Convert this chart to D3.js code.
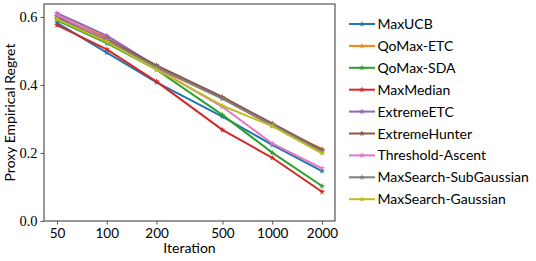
<!DOCTYPE html>
<html>
<head>
<meta charset="utf-8">
<script src="https://cdn.jsdelivr.net/npm/d3@7"></script>
<style>
  body { margin: 0; background: #fff; }
  svg text { fill: #000; }
</style>
</head>
<body>
<div id="plot"></div>
<script>
const iterations = [50, 100, 200, 500, 1000, 2000];
const seriesNames = ['MaxUCB', 'QoMax-ETC', 'QoMax-SDA', 'MaxMedian', 'ExtremeETC',
  'ExtremeHunter', 'Threshold-Ascent', 'MaxSearch-SubGaussian', 'MaxSearch-Gaussian'];
const maxUCB = [0.583, 0.495, 0.408, 0.307, 0.224, 0.147];
const qoMaxETC = [0.603, 0.539, 0.450, 0.360, 0.280, 0.212];
const qoMaxSDA = [0.590, 0.523, 0.445, 0.312, 0.201, 0.103];
const maxMedian = [0.576, 0.505, 0.410, 0.268, 0.186, 0.086];
const extremeETC = [0.611, 0.545, 0.455, 0.362, 0.282, 0.205];
const extremeHunter = [0.601, 0.535, 0.458, 0.365, 0.287, 0.209];
const thresholdAscent = [0.606, 0.532, 0.448, 0.336, 0.228, 0.155];
const maxSearchSub = [0.597, 0.530, 0.452, 0.360, 0.283, 0.204];
const maxSearchGauss = [0.593, 0.527, 0.445, 0.339, 0.279, 0.199];
const seriesValues = [maxUCB, qoMaxETC, qoMaxSDA, maxMedian, extremeETC,
  extremeHunter, thresholdAscent, maxSearchSub, maxSearchGauss];
const colors = ['#1f77b4', '#ff7f0e', '#2ca02c', '#d62728', '#9467bd',
  '#8c564b', '#e377c2', '#7f7f7f', '#bcbd22'];
const yTicks = [0.0, 0.2, 0.4, 0.6];

const W = 536, H = 261;
const plot = { left: 44, top: 4, right: 335, bottom: 221 };

const svg = d3.select('#plot').append('svg')
  .attr('width', W).attr('height', H);

const x = d3.scaleLog().domain([50, 2000])
  .range([plot.left + 13, plot.right - 13]);
const y = d3.scaleLinear().domain([0, 0.6]).range([plot.bottom, plot.bottom - 204]);

// axes
const xAxis = svg.append('g')
  .attr('transform', `translate(0,${plot.bottom})`)
  .call(d3.axisBottom(x).tickValues(iterations).tickFormat(d3.format('d')).tickSize(3.5).tickSizeOuter(0));
xAxis.select('.domain').remove();
xAxis.selectAll('text').attr('font-family', 'Lato, sans-serif').attr('font-size', 13.5).attr('dy', '0.8em');

const yAxis = svg.append('g')
  .attr('transform', `translate(${plot.left},0)`)
  .call(d3.axisLeft(y).tickValues(yTicks).tickFormat(d3.format('.1f')).tickSize(3.5).tickSizeOuter(0));
yAxis.select('.domain').remove();
yAxis.selectAll('text').attr('font-family', '"Liberation Serif", serif').attr('font-size', 14.5);
svg.selectAll('.tick line').attr('stroke', '#333').attr('stroke-width', 0.8);

// series
const line = d3.line().x((d, i) => x(iterations[i])).y(d => y(d));
const star = d3.symbol().type(d3.symbolStar).size(12);
seriesValues.forEach((vals, k) => {
  svg.append('path').datum(vals)
    .attr('d', line)
    .attr('fill', 'none')
    .attr('stroke', colors[k])
    .attr('stroke-width', 2)
    .attr('stroke-linejoin', 'round');
  svg.selectAll(null).data(vals).enter().append('path')
    .attr('d', star)
    .attr('transform', (d, i) => `translate(${x(iterations[i])},${y(d)})`)
    .attr('fill', colors[k]);
});

// frame
svg.append('rect')
  .attr('x', plot.left).attr('y', plot.top)
  .attr('width', plot.right - plot.left).attr('height', plot.bottom - plot.top)
  .attr('fill', 'none').attr('stroke', '#333').attr('stroke-width', 1);

// labels
svg.append('text')
  .attr('x', (plot.left + plot.right) / 2).attr('y', 253)
  .attr('text-anchor', 'middle')
  .attr('font-family', 'Lato, sans-serif').attr('font-size', 14)
  .text('Iteration');
svg.append('text')
  .attr('transform', `translate(15,${(plot.top + plot.bottom) / 2}) rotate(-90)`)
  .attr('text-anchor', 'middle')
  .attr('font-family', 'Lato, sans-serif').attr('font-size', 14)
  .text('Proxy Empirical Regret');

// legend
const legend = svg.append('g').attr('transform', 'translate(349,24)');
seriesNames.forEach((name, k) => {
  const g = legend.append('g').attr('transform', `translate(0,${k * 21.9})`);
  g.append('line').attr('x1', 0).attr('x2', 26).attr('y1', 0).attr('y2', 0)
    .attr('stroke', colors[k]).attr('stroke-width', 2);
  g.append('path').attr('d', star).attr('transform', 'translate(13,0)').attr('fill', colors[k]);
  g.append('text').attr('x', 28.5).attr('y', 0).attr('dy', '0.36em')
    .attr('font-family', 'Lato, sans-serif').attr('font-size', 14)
    .text(name);
});
</script>
</body>
</html>
